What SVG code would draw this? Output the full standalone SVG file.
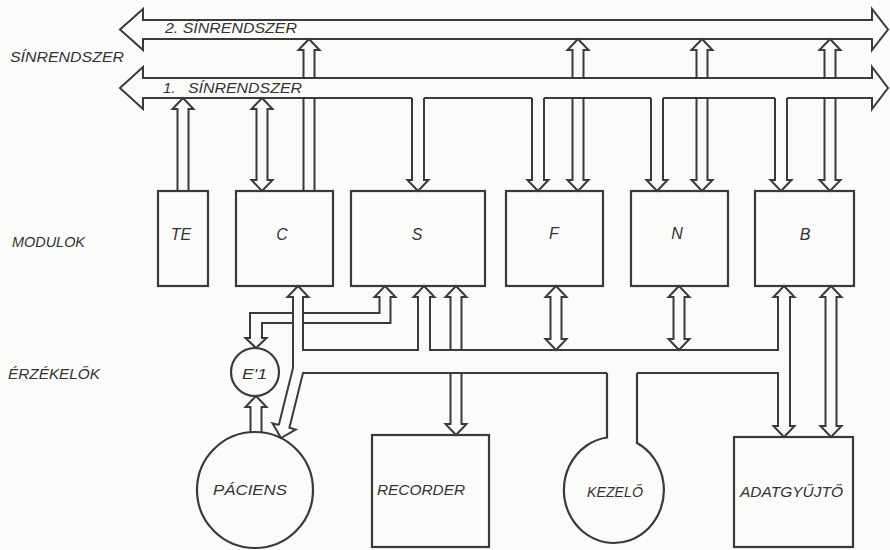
<svg xmlns="http://www.w3.org/2000/svg" width="890" height="550" viewBox="0 0 890 550">
<style>
.ln{fill:none;stroke:#3a3a3a;stroke-width:2;stroke-linejoin:miter}
.bx{fill:none;stroke:#3a3a3a;stroke-width:2.2}
.tx{font-family:"Liberation Sans",Arial,sans-serif;font-style:italic;fill:#333;font-size:15px}
.md{font-size:16px;text-anchor:middle}
</style>
<rect x="0" y="0" width="890" height="550" fill="#fbfbf9"/>

<g id="side-labels">
<text class="tx" x="10" y="62" textLength="114" lengthAdjust="spacingAndGlyphs">SÍNRENDSZER</text>
<text class="tx" x="12" y="247" textLength="73" lengthAdjust="spacingAndGlyphs">MODULOK</text>
<text class="tx" x="8" y="379" textLength="92" lengthAdjust="spacingAndGlyphs">ÉRZÉKELŐK</text>
</g>

<g id="bus2">
<path class="ln" d="M143,20 H872 V9 L888,29.5 L872,50 V39 H143 V50 L120,29.5 L143,9 Z"/>
<text class="tx" x="165" y="33" font-size="14" textLength="132" lengthAdjust="spacingAndGlyphs">2. SÍNRENDSZER</text>
</g>

<g id="bus1">
<path class="ln" d="M412,98 H143 V109 L120,88 L143,67 V78 H872 V67 L888,88 L872,109 V98 H787"/>
<path class="ln" d="M424,98 H532 M544,98 H651 M663,98 H775"/>
<text class="tx" x="163" y="93" font-size="14">1. <tspan x="188" textLength="114" lengthAdjust="spacingAndGlyphs">SÍNRENDSZER</tspan></text>
</g>

<g id="TE"><rect class="bx" x="158" y="191" width="50" height="95"/><text class="tx md" x="181" y="240">TE</text></g>
<g id="C"><rect class="bx" x="236" y="191" width="97" height="95"/><text class="tx md" x="282" y="240">C</text></g>
<g id="S"><rect class="bx" x="351" y="191" width="134" height="95"/><text class="tx md" x="417" y="240">S</text></g>
<g id="F"><rect class="bx" x="506" y="191" width="97" height="95"/><text class="tx md" x="554" y="239">F</text></g>
<g id="N"><rect class="bx" x="631" y="191" width="97" height="95"/><text class="tx md" x="677" y="239">N</text></g>
<g id="B"><rect class="bx" x="755" y="191" width="99" height="95"/><text class="tx md" x="805" y="240">B</text></g>

<g id="E1"><circle class="bx" cx="255" cy="372" r="24"/><text class="tx" x="242" y="379" textLength="25" lengthAdjust="spacingAndGlyphs">E'1</text></g>
<g id="PACIENS"><circle class="bx" cx="255" cy="490" r="58"/><text class="tx" x="213" y="495" textLength="74" lengthAdjust="spacingAndGlyphs">PÁCIENS</text></g>
<g id="RECORDER"><rect class="bx" x="372" y="435" width="117" height="112"/><text class="tx" x="377" y="495" textLength="88" lengthAdjust="spacingAndGlyphs">RECORDER</text></g>
<g id="KEZELO"><path class="bx" d="M607,373 V437.5 A50,53 0 1,0 637,443 V373"/><text class="tx" x="587" y="497" textLength="56" lengthAdjust="spacingAndGlyphs">KEZELŐ</text></g>
<g id="ADATGYUJTO"><rect class="bx" x="734" y="437" width="119" height="110"/><text class="tx" x="740" y="497" textLength="103" lengthAdjust="spacingAndGlyphs">ADATGYŰJTŐ</text></g>

<g id="connectors">
<path class="ln" d="M303.5,78 V50 H298.5 L309,39 L319.5,50 H314.5 V78"/>
<path class="ln" d="M572.5,78 V50 H567.5 L578,39 L588.5,50 H583.5 V78"/>
<path class="ln" d="M696.5,78 V50 H691.5 L702,39 L712.5,50 H707.5 V78"/>
<path class="ln" d="M824.5,78 V50 H819.5 L830,39 L840.5,50 H835.5 V78"/>
<path class="ln" d="M303.5,98 V191 M314.5,98 V191"/>
<path class="ln" d="M572.5,98 V180 H567.5 L578,191 L588.5,180 H583.5 V98"/>
<path class="ln" d="M696.5,98 V180 H691.5 L702,191 L712.5,180 H707.5 V98"/>
<path class="ln" d="M824.5,98 V180 H819.5 L830,191 L840.5,180 H835.5 V98"/>
<path class="ln" d="M177.5,191 V109 H172.5 L183,98 L193.5,109 H188.5 V191"/>
<path class="ln" d="M256.5,180 V109 H251.5 L262,98 L272.5,109 H267.5 V180 H272.5 L262,191 L251.5,180 Z"/>
<path class="ln" d="M412,98 V180 H407.5 L418,191 L428.5,180 H424 V98"/>
<path class="ln" d="M532,98 V180 H527.5 L538,191 L548.5,180 H544 V98"/>
<path class="ln" d="M651,98 V180 H646.5 L657,191 L667.5,180 H663 V98"/>
<path class="ln" d="M775,98 V180 H770.5 L781,191 L791.5,180 H787 V98"/>
<path class="ln" d="M278.8,425 L293,368 V297 H287.5 L298,286 L308.5,297 H303 V350 H418 V297 H413.5 L424,286 L434.5,297 H430 V350 H778 V297 H773.5 L784,286 L794.5,297 H790 V426 H794.5 L784,437 L773.5,426 H778 V373 H637"/>
<path class="ln" d="M607,373 H303 L289.4,427.8 L295.7,429.5 L281,438 L272.5,423.3 L278.8,425"/>
<path class="ln" d="M293,313 H250 V338 H245.5 L256,348 L266.5,338 H262 V323 H293"/>
<path class="ln" d="M303,313 H379.5 V297 H374.5 L385,286 L395.5,297 H390.5 V323 H303"/>
<path class="ln" d="M450.5,350 V297 H445.5 L456,286 L466.5,297 H461.5 V350"/>
<path class="ln" d="M450.5,373 V424 H445.5 L456,435 L466.5,424 H461.5 V373"/>
<path class="ln" d="M550.5,339 V297 H545.5 L556,286 L566.5,297 H561.5 V339 H566.5 L556,350 L545.5,339 Z"/>
<path class="ln" d="M673.5,339 V297 H668.5 L679,286 L689.5,297 H684.5 V339 H689.5 L679,350 L668.5,339 Z"/>
<path class="ln" d="M825.5,426 V297 H820.5 L831,286 L841.5,297 H836.5 V426 H841.5 L831,437 L820.5,426 Z"/>
<path class="ln" d="M250.5,432.3 V407 H245.5 L256,396 L266.5,407 H261.5 V432.4"/>
</g>
</svg>
